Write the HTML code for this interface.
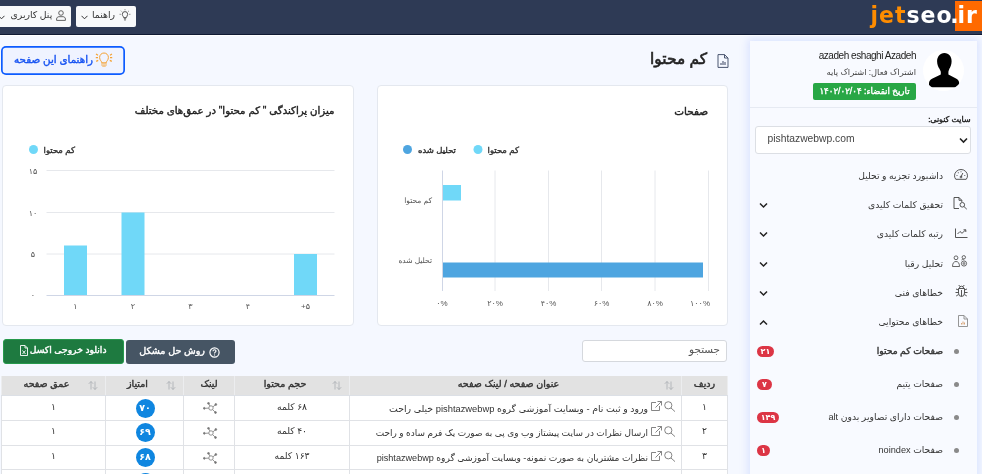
<!DOCTYPE html>
<html lang="fa" dir="rtl">
<head>
<meta charset="utf-8">
<title>کم محتوا</title>
<style>
*{box-sizing:border-box}
html,body{margin:0;padding:0;overflow:hidden}
body{width:982px;height:474px;position:relative;background:#f5f8ff;font-family:"Liberation Sans","DejaVu Sans",sans-serif;color:#333;direction:rtl}
#app{position:absolute;left:0;top:0;width:982px;height:474px;overflow:hidden;background:#f5f8ff}
.abs{position:absolute}
.nw{white-space:nowrap}
.fb{font-weight:normal;-webkit-text-stroke:.4px currentColor}
/* header */
#hdr{position:absolute;left:0;top:0;width:982px;height:35px;background:#2e3a55;border-bottom:1px solid #101a33}
#hdrline{position:absolute;left:0;top:35px;width:982px;height:1px;background:#fff}
#logo{position:absolute;left:869px;top:0;height:32px;width:113px;direction:ltr;font-family:"DejaVu Sans","Liberation Sans",sans-serif;font-weight:bold;font-size:22px;letter-spacing:1px;line-height:30px;color:#fff;white-space:nowrap}
#logo .j{color:#ff8c00}
#logo .lt{position:absolute;left:1.500px;top:1px;display:inline-block;transform:scaleY(1.08);transform-origin:0 77%}
#logo .irbg{position:absolute;left:86px;top:1px;width:27px;height:30px;background:#ff6a00}
#logo .ir{left:88.500px}
.tbtn{position:absolute;top:6px;height:21px;background:#f8f9fa;border-radius:2px;font-size:9.3px;line-height:19px;color:#333;white-space:nowrap}
.tbtn span{position:absolute;top:0}
.tbtn svg{position:absolute}
/* sidebar */
#side{position:absolute;left:750px;top:41px;width:227px;height:440px;background:#f8faff;box-shadow:0 0 8px 2px rgba(120,150,255,.22)}
.mi{position:absolute;right:0;width:227px;height:28px;font-size:9.2px;color:#333;white-space:nowrap}
.mi .t{position:absolute;right:34px;top:0;line-height:28px}
.mi svg.ic{position:absolute}
.mi svg.ch{position:absolute;left:9px;top:11px}
.dot{position:absolute;right:18px;top:12px;width:5px;height:5px;border-radius:50%;background:#8a8a8a}
.bdg{position:absolute;left:7px;top:8.500px;height:11px;border-radius:6px;background:#dc3545;color:#fff;font-size:8px;font-weight:bold;line-height:11px;text-align:center}
/* cards */
.card{position:absolute;background:#fff;border:1px solid #e4e8ef;border-radius:4px}
.ct{position:absolute;font-size:10.5px;color:#222;white-space:nowrap}
svg text{font-family:"Liberation Sans","DejaVu Sans",sans-serif}
/* table */
#tbl{position:absolute;left:1px;top:376px;width:726px;border-collapse:collapse;font-size:9.2px;color:#333;table-layout:fixed}
#tbl th{background:#e2e2e2;height:19.500px;font-size:9.500px;padding:0 0 4px 0;text-align:center;position:relative;border-bottom:1px solid #dce0e6;border-left:1px solid #ecedef;border-right:1px solid #ecedef;white-space:nowrap}
#tbl th.s{padding-right:14px}
#tbl td.lk,#tbl td.scc{padding:0}
#tbl th.s svg{position:absolute;right:7px;top:5px}
#tbl td{background:#fff;height:24.800px;padding:0 0 3.500px 0;text-align:center;border:1px solid #e0e2e6;white-space:nowrap;position:relative}
#tbl td.tt{text-align:right;padding:1px 33px .5px 0}
#tbl td.tt svg{position:absolute;top:5px}
#tbl td.lk svg{position:absolute;left:19px;top:6px}
.sc{position:absolute;left:29.5px;top:2.5px;width:19px;height:19px;border-radius:50%;background:#0f86e0;color:#fff;font-weight:bold;font-size:9.500px;line-height:18px;text-align:center}
</style>
</head>
<body>
<div id="app">
<div id="hdr"></div><div id="hdrline"></div>
<div id="logo"><span class="irbg"></span><span class="lt"><span class="j">jet</span>seo<span style="margin-left:-2.500px">.</span></span><span class="lt ir">ir</span></div>

<div class="tbtn" style="left:75.5px;width:60px">
  <svg style="left:43px;top:3px" width="12" height="12" viewBox="0 0 12 12" fill="none" stroke="#444" stroke-width=".9"><path d="M4.6 8.600c0-1.300-1.300-1.700-1.300-3.300a2.700 2.700 0 0 1 5.400 0c0 1.600-1.300 2-1.300 3.300zM4.900 9.800h2.200M5.300 11h1.400"/><path d="M6 1.200v-.8M2.600 2.400l-.6-.6M9.400 2.400l.6-.6M1.600 5.300h-.9M10.400 5.300h.9" stroke-dasharray="1 .6"/></svg>
  <span style="left:16.5px">راهنما</span>
  <svg style="left:5px;top:8.500px" width="7" height="5" viewBox="0 0 7 5" fill="none" stroke="#333" stroke-width="1"><path d="M.5 .8l3 3l3-3"/></svg>
</div>
<div class="tbtn" style="left:-6px;width:77px">
  <svg style="left:62px;top:4px" width="10" height="11" viewBox="0 0 10 11" fill="none" stroke="#555" stroke-width=".9"><circle cx="5" cy="3" r="2.300"/><path d="M.6 10.400v-1.400c0-1.500 1.200-2.300 2.400-2.300h4c1.200 0 2.400.8 2.400 2.300v1.400z"/></svg>
  <span style="left:16.500px">پنل کاربری</span>
  <svg style="left:4px;top:8.500px" width="7" height="5" viewBox="0 0 7 5" fill="none" stroke="#333" stroke-width="1"><path d="M.5 .8l3 3l3-3"/></svg>
</div>
<div id="side">
  <div class="abs" style="left:173px;top:8.500px;width:41px;height:41px;border-radius:50%;background:#fff;overflow:hidden">
    <svg width="41" height="41" viewBox="0 0 41 41"><path d="M21.400 2.900C26 2.900 28.800 6.500 28.600 11.500C28.500 14.500 27.500 17 26.500 18.500C26 20 25.400 21 25.400 22L25.400 24.500L33 28.500C35.500 29.800 36.200 31.500 36.200 33.500L36.200 35C36.200 36.500 35 37.300 33.500 37.300L9 37.300C7.200 37.300 6 36.500 6 35L6 33.500C6 31.500 6.800 29.800 9.500 28.500L17.800 24.500L17.800 22C17.800 21 17 20 16.300 18.500C15.200 17 14.200 14.500 14.100 11.500C14 6.500 17 2.900 21.400 2.900Z" fill="#000"/></svg>
  </div>
  <div class="abs nw" style="right:61px;top:8.500px;font-size:10px;letter-spacing:-.45px;color:#222;direction:ltr">azadeh eshaghi Azadeh</div>
  <div class="abs nw" style="right:61px;top:26px;font-size:8.300px;color:#444">اشتراک فعال: اشتراک پایه</div>
  <div class="abs nw" style="left:63px;top:41.500px;width:103px;height:17px;background:#28a745;border-radius:2px;color:#fff;font-size:8.700px;line-height:16px;text-align:center"><span class="fb">تاریخ انقضاء: ۱۴۰۲/۰۲/۰۴</span></div>
  <div class="abs" style="left:0;top:66px;width:227px;height:1px;background:#e6eaf2"></div>
  <div class="abs nw fb" style="right:6.500px;top:73.500px;font-size:7.900px;color:#222">سایت کنونی:</div>
  <div class="abs" style="left:5px;top:85px;width:216px;height:28px;background:#fff;border:1px solid #dcdfe4;border-radius:3px;direction:ltr;font-size:10.300px;line-height:23.500px;color:#444;padding-left:11.500px">pishtazwebwp.com
    <svg class="abs" style="right:2.500px;top:9.500px" width="9" height="7" viewBox="0 0 9 7"><path d="M1 1.500l3.500 3.500l3.500-3.500" fill="none" stroke="#222" stroke-width="1.600"/></svg>
  </div>

  <div class="mi" style="top:121px"><svg class="ic" style="left:203.500px;top:7px" width="14" height="11" viewBox="0 0 14 11" fill="none" stroke="#444" stroke-width=".9"><path d="M1.800 10.300c-.8-1-1.300-2.200-1.300-3.500a6.500 6.300 0 0 1 13 0c0 1.300-.5 2.500-1.300 3.500z"/><path d="M7 8l1.800-4"/><circle cx="7" cy="8" r=".9"/><path d="M3 6.500h.01M4.300 3.800h.01M7 2.700h.01M10.800 6.500h.01" stroke-linecap="round" stroke-width="1.100"/></svg><span class="t">داشبورد تجزیه و تحلیل</span></div>
  <div class="mi" style="top:150.200px"><svg class="ic" style="left:202.500px;top:6px" width="15" height="13" viewBox="0 0 15 13" fill="none" stroke="#444" stroke-width=".9"><path d="M6 11.500h-5v-11h5l2.800 2.800v1.700M6 .5v2.800h2.800"/><circle cx="9.300" cy="7.800" r="2.300"/><path d="M11 9.600l2.800 2.600"/></svg><span class="t">تحقیق کلمات کلیدی</span><svg class="ch" width="9" height="7" viewBox="0 0 9 7"><path d="M1 1.500l3.500 3.500l3.500-3.500" fill="none" stroke="#222" stroke-width="1.500"/></svg></div>
  <div class="mi" style="top:179.400px"><svg class="ic" style="left:204.500px;top:7.500px" width="13" height="10" viewBox="0 0 13 10" fill="none" stroke="#444" stroke-width=".9"><path d="M.5 .5v9h12M2.500 6l2.500-2.500l2 1.800l3.500-3.300M8.500 1.800h2.300v2.200"/></svg><span class="t">رتبه کلمات کلیدی</span><svg class="ch" width="9" height="7" viewBox="0 0 9 7"><path d="M1 1.500l3.500 3.500l3.500-3.500" fill="none" stroke="#222" stroke-width="1.500"/></svg></div>
  <div class="mi" style="top:208.600px"><svg class="ic" style="left:202px;top:5.500px" width="16" height="12" viewBox="0 0 16 12" fill="none" stroke="#555" stroke-width=".9"><circle cx="4" cy="2.800" r="1.900"/><path d="M.5 11.500c0-3.500 1.500-5 3.500-5s3.500 1.500 3.500 5z"/><circle cx="11.800" cy="2.300" r="1.700"/><circle cx="12" cy="8.500" r="2.600"/><circle cx="12" cy="8.500" r=".9"/><path d="M9.500 5c.5-.5 1.300-.8 2.300-.8"/></svg><span class="t">تحلیل رقبا</span><svg class="ch" width="9" height="7" viewBox="0 0 9 7"><path d="M1 1.500l3.500 3.500l3.500-3.500" fill="none" stroke="#222" stroke-width="1.500"/></svg></div>
  <div class="mi" style="top:237.800px"><svg class="ic" style="left:204.500px;top:5.500px" width="13" height="13" viewBox="0 0 13 13" fill="none" stroke="#444" stroke-width=".9"><path d="M3.500 4.500h6v4.500a3 3.500 0 0 1-6 0zM4.300 4.500a2.200 2.300 0 0 1 4.400 0M6.500 6v6.300M3.500 6l-2.500-1M3.500 8.500h-3M3.500 10.500l-2.300 1.500M9.500 6l2.500-1M9.500 8.500h3M9.500 10.500l2.300 1.500M4.800 2.500l-1-1.500M8.200 2.500l1-1.500"/></svg><span class="t">خطاهای فنی</span><svg class="ch" width="9" height="7" viewBox="0 0 9 7"><path d="M1 1.500l3.500 3.500l3.500-3.500" fill="none" stroke="#222" stroke-width="1.500"/></svg></div>
  <div class="mi" style="top:267px"><svg class="ic" style="left:208px;top:6.500px" width="10" height="12" viewBox="0 0 10 12" fill="none" stroke="#8a8a8a" stroke-width=".9"><path d="M6 .5h-5.500v11h9v-7.500zM6 .5v3.500h3.500"/><path d="M3.500 9.500v-1.500M5 9.500v-3M6.500 9.500v-2" stroke="#d49a66"/></svg><span class="t">خطاهای محتوایی</span><svg class="ch" width="9" height="7" viewBox="0 0 9 7"><path d="M1 5.500l3.500-3.500l3.500 3.500" fill="none" stroke="#222" stroke-width="1.500"/></svg></div>

  <div class="mi" style="top:296px"><span class="dot"></span><span class="t fb">صفحات کم محتوا</span><span class="bdg" style="width:17px">۲۱</span></div>
  <div class="mi" style="top:329px"><span class="dot"></span><span class="t">صفحات یتیم</span><span class="bdg" style="width:15px">۷</span></div>
  <div class="mi" style="top:362px"><span class="dot"></span><span class="t">صفحات دارای تصاویر بدون alt</span><span class="bdg" style="width:22px">۱۴۹</span></div>
  <div class="mi" style="top:395px"><span class="dot"></span><span class="t">صفحات noindex</span><span class="bdg" style="width:13px">۱</span></div>
</div>
<!-- page title -->
<div id="ptitle" class="abs nw fb" style="right:275px;top:46px;font-size:15.400px;color:#222;line-height:26px;-webkit-text-stroke-width:.6px">کم محتوا</div>
<svg class="abs" style="left:717px;top:53.500px" width="12" height="14" viewBox="0 0 12 14" fill="none" stroke="#4a5670" stroke-width="1"><path d="M7.500 .6h-6.500v12.800h10v-9.400zM7.500 .6v3.400h3.500"/><path d="M4 11v-2M6 11v-4M8 11v-3" stroke-width="1" stroke="#3a4560"/></svg>
<!-- guide button -->
<div class="abs" style="left:1px;top:46px;width:124px;height:29px;border-radius:5px;background:#eff3ff;box-shadow:inset 0 0 0 1.700px #0d5cff;color:#1854f2;font-size:10.300px;line-height:28px;white-space:nowrap"><span class="abs fb" style="right:32px;top:0">راهنمای این صفحه</span>
<svg class="abs" style="left:94px;top:6px" width="18" height="16" viewBox="0 0 18 16" fill="none" stroke="#f5a233" stroke-width="1"><path d="M6.800 10.800c0-1.600-2.200-2.400-2.200-5.400a4.400 4.400 0 0 1 8.800 0c0 3-2.200 3.800-2.200 5.400z"/><path d="M7 10.800v2.700a.7 .7 0 0 0 .7 .7h2.600a.7 .7 0 0 0 .7-.7v-2.700M9 11v3" stroke-width=".8"/><path d="M1 2l2 1.200M.8 5.600h2.200M1.200 9.400l2-1M17 2l-2 1.200M17.200 5.600h-2.200M16.800 9.400l-2-1" stroke-width="1.200"/></svg>
</div>

<!-- left chart card -->
<div class="card" style="left:2px;top:85px;width:352px;height:241px">
<div class="ct fb" style="right:18.500px;top:19px;font-size:10.200px">میزان پراکندگی " کم محتوا" در عمق‌های مختلف</div>
<svg class="abs" style="left:-1px;top:0px" width="352" height="240" viewBox="2 86 352 240">
<g stroke="#e6e8ec" stroke-width="1"><path d="M46.500 170.500H334.500M46.500 212.500H334.500M46.500 254H334.500"/></g>
<path d="M46.500 295.500H334.500" stroke="#cfd6e6" stroke-width="1"/>
<g fill="#70d8f8"><rect x="64" y="245.500" width="23" height="49.500"/><rect x="121.500" y="212.500" width="23" height="82.500"/><rect x="294" y="254" width="23" height="41"/></g>
<circle cx="33.500" cy="149.500" r="4.500" fill="#70d8f8"/>
<text x="75" y="152.500" font-size="8.500" fill="#333" stroke="#333" stroke-width=".4" text-anchor="start" direction="rtl">کم محتوا</text>
<g font-size="8" fill="#555" text-anchor="middle">
<text x="33" y="173.500">۱۵</text><text x="33" y="215.500">۱۰</text><text x="33" y="257">۵</text><text x="33" y="298">۰</text>
<text x="75.500" y="308.500">۱</text><text x="133" y="308.500">۲</text><text x="190.500" y="308.500">۳</text><text x="248" y="308.500">۴</text><text x="305.500" y="308.500" style="direction:ltr;unicode-bidi:bidi-override">+۵</text>
</g>
</svg>
</div>

<!-- right chart card -->
<div class="card" style="left:377px;top:85px;width:351px;height:241px">
<div class="ct fb" style="right:19px;top:19px;font-size:10.400px">صفحات</div>
<svg class="abs" style="left:-1px;top:0px" width="351" height="240" viewBox="377 86 351 240">
<g stroke="#e6e8ec" stroke-width="1"><path d="M495 170.500V291M548.500 170.500V291M601.500 170.500V291M655 170.500V291M708.500 170.500V291"/></g>
<path d="M442.500 170.500V291" stroke="#cfd6e6" stroke-width="1"/>
<rect x="443" y="185" width="18" height="15.500" fill="#70d8f8"/>
<rect x="443" y="262.500" width="260" height="15" fill="#4ea5e0"/>
<circle cx="478" cy="149.500" r="4.500" fill="#70d8f8"/><circle cx="407.500" cy="149.500" r="4.500" fill="#4ea5e0"/>
<g font-size="8.500" fill="#333" stroke="#333" stroke-width=".4" direction="rtl" text-anchor="start"><text x="519" y="152.500">کم محتوا</text><text x="456" y="152.500">تحلیل شده</text></g>
<g font-size="7.500" fill="#555" direction="rtl" text-anchor="start"><text x="432" y="203">کم محتوا</text><text x="432" y="263">تحلیل شده</text></g>
<g font-size="8" fill="#555" text-anchor="middle"><text x="442" y="305.500">۰%</text><text x="495" y="305.500">۲۰%</text><text x="548.500" y="305.500">۴۰%</text><text x="601.500" y="305.500">۶۰%</text><text x="655" y="305.500">۸۰%</text><text x="700" y="305.500">۱۰۰%</text></g>
</svg>
</div>

<!-- actions -->
<div class="abs nw" style="left:3px;top:339px;width:121px;height:24.500px;background:#1e7a40;border:1px solid #26994c;border-radius:3px;color:#fff;font-size:9.200px;line-height:20px"><span class="abs fb" style="right:16.500px;top:0">دانلود خروجی اکسل</span>
<svg class="abs" style="left:16px;top:4.500px" width="8" height="11" viewBox="0 0 8 11" fill="none" stroke="#fff" stroke-width=".9"><path d="M5 .5h-4.500v10h7v-7.500zM5 .5v2.500h2.500M2.500 5.500l3 3.500M5.500 5.500l-3 3.500"/></svg></div>
<div class="abs nw" style="left:125.500px;top:340px;width:109.500px;height:23.500px;background:#465564;border-radius:3px;color:#fff;font-size:9.600px;line-height:21px"><span class="abs fb" style="right:30px;top:0">روش حل مشکل</span>
<svg class="abs" style="left:83px;top:6.500px" width="11" height="11" viewBox="0 0 11 11" fill="none" stroke="#fff" stroke-width="1"><circle cx="5.500" cy="5.500" r="4.600" stroke-width="1.200"/><path d="M4 4.300c0-1 .7-1.500 1.500-1.500s1.500.5 1.500 1.300c0 1-1.500 1.200-1.500 2.400M5.500 7.600v1" stroke-width="1.100"/></svg></div>
<div class="abs" style="left:582px;top:340px;width:145px;height:22px;background:#fff;border:1px solid #d5d8dd;border-radius:3px;font-size:10.400px;line-height:18px;color:#555;padding-right:6px">جستجو</div>
<!-- table -->
<table id="tbl">
<colgroup><col style="width:46px"><col style="width:332px"><col style="width:115px"><col style="width:51px"><col style="width:78px"><col style="width:104px"></colgroup>
<tr><th><span class="fb">ردیف</span></th><th class="s"><svg width="10" height="9" viewBox="0 0 10 9" fill="none" stroke="#a9adb2" stroke-width=".8"><path d="M3 8.500v-8M.8 2.800l2.200-2.300l2.200 2.300M7 .5v8M4.800 6.200l2.200 2.300l2.200-2.300"/></svg><span class="fb">عنوان صفحه / لینک صفحه</span></th><th class="s"><svg width="10" height="9" viewBox="0 0 10 9" fill="none" stroke="#a9adb2" stroke-width=".8"><path d="M3 8.500v-8M.8 2.800l2.200-2.300l2.200 2.300M7 .5v8M4.800 6.200l2.200 2.300l2.200-2.300"/></svg><span class="fb">حجم محتوا</span></th><th><span class="fb">لینک</span></th><th class="s"><svg width="10" height="9" viewBox="0 0 10 9" fill="none" stroke="#a9adb2" stroke-width=".8"><path d="M3 8.500v-8M.8 2.800l2.200-2.300l2.200 2.300M7 .5v8M4.800 6.200l2.200 2.300l2.200-2.300"/></svg><span class="fb">امتیاز</span></th><th class="s"><svg width="10" height="9" viewBox="0 0 10 9" fill="none" stroke="#a9adb2" stroke-width=".8"><path d="M3 8.500v-8M.8 2.800l2.200-2.300l2.200 2.300M7 .5v8M4.800 6.200l2.200 2.300l2.200-2.300"/></svg><span class="fb">عمق صفحه</span></th></tr>
<tr><td>۱</td><td class="tt" style="font-size:9.350px"><svg style="left:313.500px" width="12" height="11" viewBox="0 0 12 11" fill="none" stroke="#777" stroke-width=".9"><circle cx="4.300" cy="4.300" r="3.600"/><path d="M7 7l4 3.600"/></svg><svg style="left:301px" width="11" height="10" viewBox="0 0 11 10" fill="none" stroke="#777" stroke-width=".9"><path d="M5 1.500h-4.500v8h8v-4.500M6.500 .5h4v4M10.500 .5l-6 6"/></svg>ورود و ثبت نام - وبسایت آموزشی گروه pishtazwebwp خیلی راحت</td><td>۶۸ کلمه</td><td class="lk"><svg width="15" height="12" viewBox="0 0 15 12" fill="none" stroke="#777" stroke-width=".8"><circle cx="8" cy="6" r="2.200"/><circle cx="5.500" cy="1.300" r=".9" fill="#777"/><circle cx="12.800" cy="2.500" r=".9" fill="#777"/><circle cx="12.500" cy="10.500" r=".9" fill="#777"/><circle cx="1.300" cy="6.300" r=".9" fill="#777"/><path d="M6.900 4l-1-2M10 4.800l2.200-1.800M9.700 7.700l2.200 2.200M5.800 6.100l-3.500.2"/></svg></td><td class="scc"><span class="sc">۷۰</span></td><td>۱</td></tr>
<tr><td>۲</td><td class="tt" style="font-size:8.950px"><svg style="left:313.500px" width="12" height="11" viewBox="0 0 12 11" fill="none" stroke="#777" stroke-width=".9"><circle cx="4.300" cy="4.300" r="3.600"/><path d="M7 7l4 3.600"/></svg><svg style="left:301px" width="11" height="10" viewBox="0 0 11 10" fill="none" stroke="#777" stroke-width=".9"><path d="M5 1.500h-4.500v8h8v-4.500M6.500 .5h4v4M10.500 .5l-6 6"/></svg>ارسال نظرات در سایت پیشتاز وب وی پی به صورت یک فرم ساده و راحت</td><td>۴۰ کلمه</td><td class="lk"><svg width="15" height="12" viewBox="0 0 15 12" fill="none" stroke="#777" stroke-width=".8"><circle cx="8" cy="6" r="2.200"/><circle cx="5.500" cy="1.300" r=".9" fill="#777"/><circle cx="12.800" cy="2.500" r=".9" fill="#777"/><circle cx="12.500" cy="10.500" r=".9" fill="#777"/><circle cx="1.300" cy="6.300" r=".9" fill="#777"/><path d="M6.900 4l-1-2M10 4.800l2.200-1.800M9.700 7.700l2.200 2.200M5.800 6.100l-3.500.2"/></svg></td><td class="scc"><span class="sc">۶۹</span></td><td>۱</td></tr>
<tr><td>۳</td><td class="tt" style="font-size:9.100px"><svg style="left:313.500px" width="12" height="11" viewBox="0 0 12 11" fill="none" stroke="#777" stroke-width=".9"><circle cx="4.300" cy="4.300" r="3.600"/><path d="M7 7l4 3.600"/></svg><svg style="left:301px" width="11" height="10" viewBox="0 0 11 10" fill="none" stroke="#777" stroke-width=".9"><path d="M5 1.500h-4.500v8h8v-4.500M6.500 .5h4v4M10.500 .5l-6 6"/></svg>نظرات مشتریان به صورت نمونه- وبسایت آموزشی گروه pishtazwebwp</td><td>۱۶۳ کلمه</td><td class="lk"><svg width="15" height="12" viewBox="0 0 15 12" fill="none" stroke="#777" stroke-width=".8"><circle cx="8" cy="6" r="2.200"/><circle cx="5.500" cy="1.300" r=".9" fill="#777"/><circle cx="12.800" cy="2.500" r=".9" fill="#777"/><circle cx="12.500" cy="10.500" r=".9" fill="#777"/><circle cx="1.300" cy="6.300" r=".9" fill="#777"/><path d="M6.900 4l-1-2M10 4.800l2.200-1.800M9.700 7.700l2.200 2.200M5.800 6.100l-3.500.2"/></svg></td><td class="scc"><span class="sc">۶۸</span></td><td>۱</td></tr>
<tr><td>۴</td><td class="tt"><svg style="left:313.500px" width="12" height="11" viewBox="0 0 12 11" fill="none" stroke="#777" stroke-width=".9"><circle cx="4.300" cy="4.300" r="3.600"/><path d="M7 7l4 3.600"/></svg><svg style="left:301px" width="11" height="10" viewBox="0 0 11 10" fill="none" stroke="#777" stroke-width=".9"><path d="M5 1.500h-4.500v8h8v-4.500M6.500 .5h4v4M10.500 .5l-6 6"/></svg></td><td></td><td class="lk"><svg width="15" height="12" viewBox="0 0 15 12" fill="none" stroke="#777" stroke-width=".8"><circle cx="8" cy="6" r="2.200"/><circle cx="5.500" cy="1.300" r=".9" fill="#777"/><circle cx="12.800" cy="2.500" r=".9" fill="#777"/><circle cx="12.500" cy="10.500" r=".9" fill="#777"/><circle cx="1.300" cy="6.300" r=".9" fill="#777"/><path d="M6.900 4l-1-2M10 4.800l2.200-1.800M9.700 7.700l2.200 2.200M5.800 6.100l-3.500.2"/></svg></td><td class="scc"><span class="sc">۶۷</span></td><td>۱</td></tr>
</table>
</div>
</body>
</html>
